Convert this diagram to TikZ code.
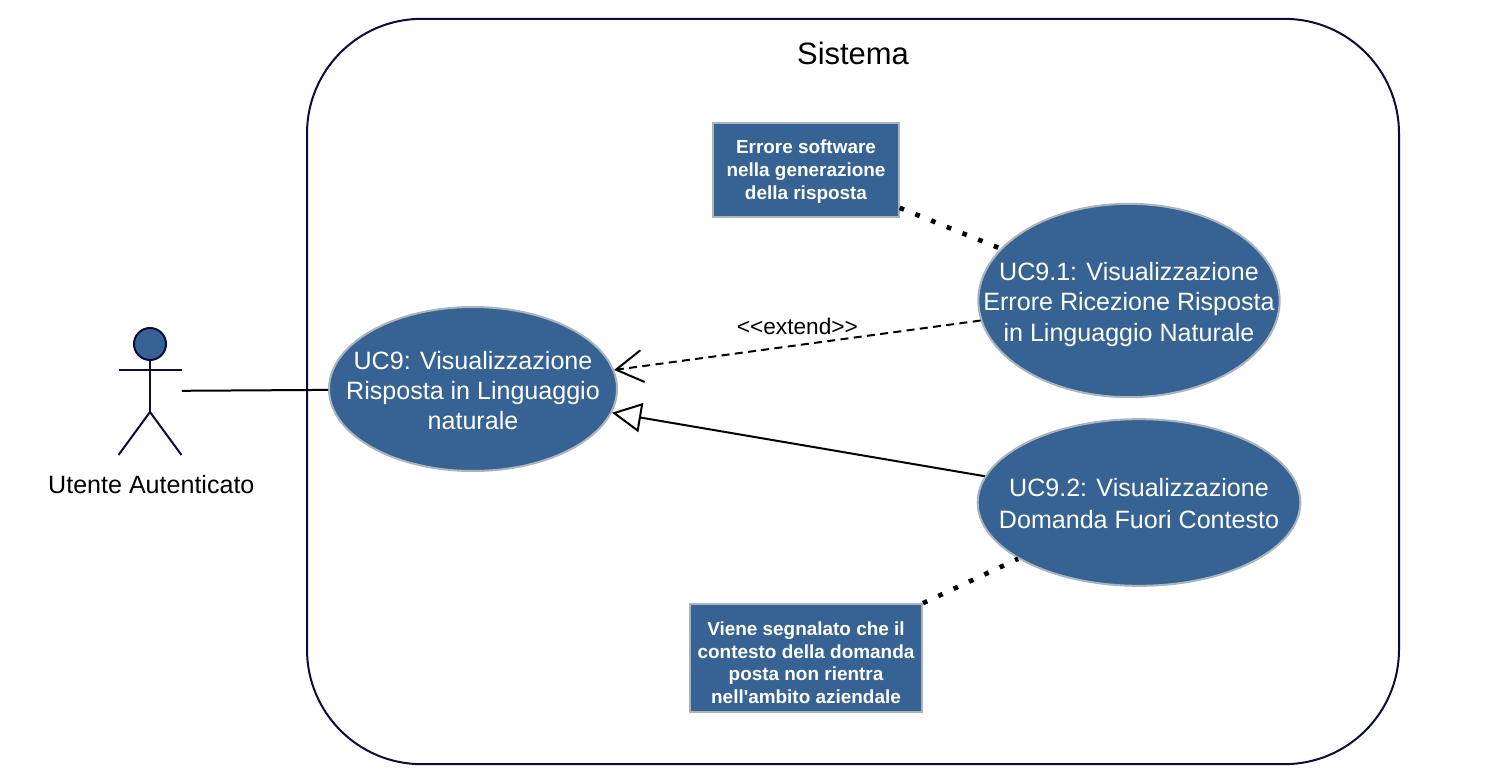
\documentclass[tikz,border=0pt]{standalone}
\usepackage{fontspec}
\setmainfont{Liberation Sans}[Ligatures=TeXOff]
\usetikzlibrary{positioning, arrows.meta, shapes.geometric}
\definecolor{ucblue}{HTML}{366394}
\definecolor{ucedge}{HTML}{A9B4BF}
\definecolor{ucnavy}{HTML}{0B0B3F}

\begin{document}
\begin{tikzpicture}[
                x=0.75pt, y=-0.75pt,
                align=center,
                every node/.style={font=\fontsize{18.8pt}{22.8pt}\selectfont},
                system/.style={rectangle, draw=ucnavy, line width=1.5pt, rounded corners=86pt, minimum width=819pt, minimum height=559pt, inner sep=0pt},
                usecase/.style={ellipse, draw=ucedge, fill=ucblue, line width=1.5pt, text=white, inner ysep=0pt, inner xsep=-40pt},
                note/.style={rectangle, draw=ucedge, fill=ucblue, line width=1.5pt, text=white, inner sep=0pt, font=\fontsize{14.2pt}{17.1pt}\selectfont\bfseries},
                actor/.style={rectangle, minimum width=47.5pt, minimum height=95pt, inner sep=0pt},
                stick/.style={draw=ucnavy, line width=1.5pt},
                line/.style={draw=black, line width=1.5pt},
                extendline/.style={line, dash pattern=on 6pt off 4pt, -{Straight Barb[length=20pt, width=24pt, line width=1.5pt]}},
                generalize/.style={line, -{Triangle[open, length=22pt, width=22pt, line width=1.5pt]}},
                anchorline/.style={draw=black, line width=3.5pt, dash pattern=on 3.5pt off 9.2pt},
                ]

                \useasboundingbox (0,0) rectangle (1488,781);

                % System boundary
                \node [system] (sistema) at (853,391.5) {};
                \node [font=\fontsize{23.2pt}{28pt}\selectfont] (titolo) at (853,53) {Sistema};

                % Use cases and notes
                \node [usecase, minimum width=216pt, minimum height=123pt] (uc9) at (473,389) {\rule{0pt}{16pt}UC9: Visualizzazione\\Risposta in Linguaggio\\naturale};
                \node [usecase, minimum width=226pt, minimum height=145pt] (uc91) at (1129,300.5) {\rule{0pt}{19.5pt}UC9.1: Visualizzazione\\Errore Ricezione Risposta\\in Linguaggio Naturale};
                \node [usecase, minimum width=242pt, minimum height=125pt] (uc92) at (1139,502.5) {\rule{0pt}{15.5pt}UC9.2: Visualizzazione\\[1.5pt]Domanda Fuori Contesto};
                \node [note, minimum width=139pt, minimum height=70pt] (noteErrore) at (806,170) {\rule{0pt}{13pt}Errore software\\nella generazione\\della risposta};
                \node [note, minimum width=174pt, minimum height=81pt] (noteContesto) at (806,657.5) {\rule{0pt}{18pt}Viene segnalato che il\\contesto della domanda\\posta non rientra\\nell'ambito aziendale};

                % Actor
                \node [actor] (utente) at (150,391) {};
                \node [below=12pt of utente, xshift=1pt] (utenteLabel) {Utente Autenticato};
                \draw [stick, fill=ucblue] (150,344) circle (12pt);
                \draw [stick] (150,360) -- (150,412);
                \draw [stick] (118.5,370) -- (181.5,370);
                \draw [stick] (118.5,455) -- (150,412) -- (181.5,455);

                % Connectors
                \draw [line] (utente) -- (uc9);
                \draw [extendline] (uc91) -- node [midway, above=4pt, font=\fontsize{17pt}{20pt}\selectfont] (extendLabel) {<{}<extend>{}>} (uc9);
                \draw [generalize] (uc92) -- (uc9);
                \draw [anchorline] (noteErrore) -- (uc91);
                \draw [anchorline] (noteContesto) -- (uc92);

            \end{tikzpicture}
\end{document}
